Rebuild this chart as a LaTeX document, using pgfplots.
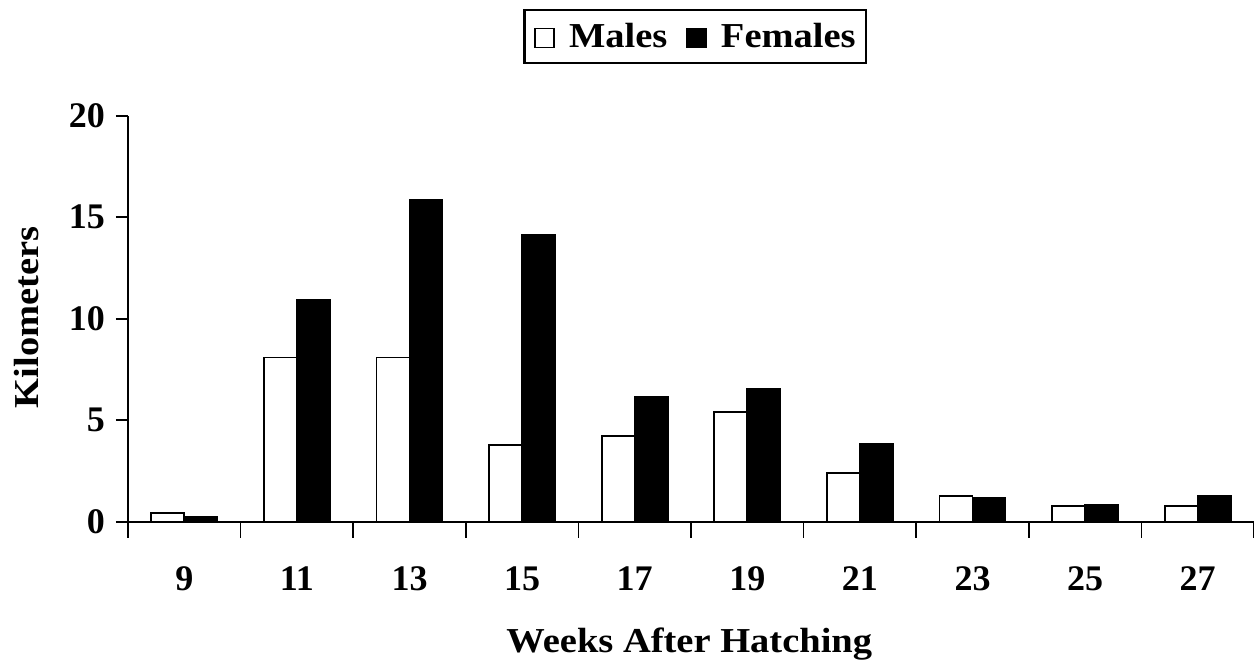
\documentclass[border=0pt]{standalone}
\usepackage{pgfplots}
\pgfplotsset{compat=1.18}
\usepackage{fontspec}
\setmainfont{Liberation Serif}
\newfontfamily\widefont{Liberation Serif}[FakeStretch=1.1]

% distance travelled (km) per week after hatching
\pgfplotstableread{
x week male female
0 9  0.41 0.25
1 11 8.09 10.93
2 13 8.09 15.83
3 15 3.78 14.13
4 17 4.22 6.13
5 19 5.41 6.52
6 21 2.38 3.81
7 23 1.28 1.17
8 25 0.79 0.84
9 27 0.77 1.25
}\kmdata

\newcommand{\tickfont}{\fontsize{18}{21}\selectfont\bfseries}
\newcommand{\lblfont}{\fontsize{17.5}{21}\selectfont\widefont\bfseries}

\begin{document}
\begin{tikzpicture}
\path[use as bounding box] (0,0) rectangle (627pt,330.5pt);
\begin{axis}[
    at={(64pt,69.65pt)}, anchor=south west,
    width=563pt, height=203pt, scale only axis,
    ybar=0pt, bar width=16.5pt,
    xmin=-0.5, xmax=9.5, ymin=0, ymax=20,
    axis x line*=bottom, axis y line*=left,
    axis line style={line width=1pt},
    tick align=outside,
    xtick={0,...,9},
    xticklabels={9,11,13,15,17,19,21,23,25,27},
    major x tick style={draw=none},
    minor xtick={-0.5,0.5,...,9.5},
    minor tick length=8pt,
    minor x tick style={line width=0.8pt, black},
    ytick={0,5,10,15,20},
    major tick length=6pt,
    major y tick style={line width=0.8pt, black},
    /pgf/number format/assume math mode=true,
    ticklabel style={font=\tickfont},
    xticklabel style={anchor=center, yshift=-22.5pt},
    yticklabel style={xshift=-2pt},
    xlabel={Weeks After Hatching},
    ylabel={Kilometers},
    label style={font=\lblfont},
    xlabel style={at={(axis description cs:0.4985,-0.323)}, anchor=base},
    ylabel style={at={(axis description cs:-0.0897,0.503)}, anchor=center, rotate=0},
    legend columns=2,
    legend style={at={(axis description cs:0.5036,1.195)}, anchor=center,
        draw=black, line width=1.1pt, font=\lblfont,
        inner xsep=5pt, inner ysep=6.5pt,
        nodes={inner sep=0pt},
        /tikz/every odd column/.append style={column sep=7pt},
        /tikz/every even column/.append style={column sep=9.5pt}},
    legend image code/.code={\draw[#1, line width=0.8pt] (0pt,-5.5pt) rectangle (9.5pt,4pt);},
]
\addplot[draw=black, fill=white, line width=0.9pt] table[x=x, y=male] {\kmdata};
\addplot[draw=black, fill=black, line width=0.9pt] table[x=x, y=female] {\kmdata};
\legend{Males, Females}
\end{axis}
\end{tikzpicture}
\end{document}
